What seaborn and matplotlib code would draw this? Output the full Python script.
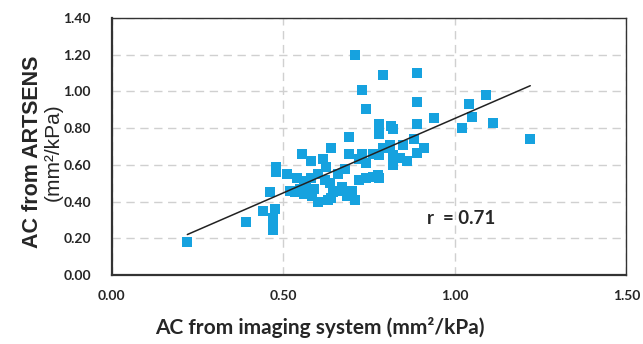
import numpy as np
import pandas as pd
import seaborn as sns
import matplotlib.pyplot as plt

# AC values (mm2/kPa)
ac_imaging = [0.22, 0.39, 0.44, 0.46, 0.475, 0.47, 0.47, 0.47, 0.48, 0.48,
              0.51, 0.555, 0.58, 0.54, 0.56, 0.58, 0.535, 0.56, 0.585, 0.59,
              0.615, 0.625, 0.64, 0.635, 0.645, 0.665, 0.64, 0.685, 0.71, 0.69,
              0.69, 0.73, 0.74, 0.72, 0.74, 0.76, 0.775, 0.71, 0.79, 0.73,
              0.74, 0.78, 0.815, 0.89, 0.89, 1.09, 1.04, 1.05, 1.11, 1.02,
              0.94, 0.89, 0.82, 0.78, 0.88, 0.85, 0.81, 0.91, 0.89, 0.82,
              1.22, 0.86, 0.82, 0.78, 0.78, 0.60, 0.62, 0.66, 0.67, 0.70,
              0.72, 0.52, 0.55, 0.63, 0.60, 0.68, 0.565, 0.79, 0.84, 0.76]
ac_artsens = [0.18, 0.29, 0.35, 0.45, 0.36, 0.31, 0.245, 0.27, 0.59, 0.56,
              0.55, 0.66, 0.62, 0.53, 0.51, 0.53, 0.45, 0.44, 0.43, 0.47,
              0.63, 0.59, 0.69, 0.50, 0.45, 0.46, 0.42, 0.43, 0.41, 0.75,
              0.66, 0.66, 0.61, 0.52, 0.53, 0.535, 0.545, 1.20, 1.09, 1.01,
              0.905, 0.82, 0.81, 1.10, 0.94, 0.98, 0.93, 0.86, 0.83, 0.80,
              0.855, 0.82, 0.795, 0.77, 0.74, 0.71, 0.71, 0.69, 0.665, 0.655,
              0.74, 0.62, 0.60, 0.655, 0.53, 0.55, 0.52, 0.55, 0.48, 0.46,
              0.63, 0.46, 0.47, 0.41, 0.40, 0.58, 0.49, 0.69, 0.64, 0.66]

x_ticks = [0.0, 0.5, 1.0, 1.5]
y_ticks = [0.0, 0.2, 0.4, 0.6, 0.8, 1.0, 1.2, 1.4]

df = pd.DataFrame({'imaging': ac_imaging, 'artsens': ac_artsens})

sns.set_style('white')
plt.rcParams['font.family'] = ['Lato', 'DejaVu Sans']

fig = plt.figure(figsize=(6.43, 3.44), dpi=100)
ax = fig.add_axes([0.174, 0.2, 0.8, 0.748])

sns.regplot(data=df, x='imaging', y='artsens', ax=ax, ci=None, marker='s',
            scatter_kws={'color': '#16A2DF', 's': 55, 'alpha': 1, 'linewidths': 0},
            line_kws={'color': '#222222', 'linewidth': 1.1})

ax.set_xlim(0, 1.5)
ax.set_ylim(0, 1.4)
ax.set_xticks(x_ticks)
ax.set_yticks(y_ticks)
ax.set_xticklabels([f'{v:.2f}' for v in x_ticks], fontweight='bold', fontsize=10)
ax.set_yticklabels([f'{v:.2f}' for v in y_ticks], fontweight='bold', fontsize=10)
ax.grid(True, color='#d0d0d0', linestyle=(0, (6, 4)), linewidth=1)
ax.set_axisbelow(True)
ax.tick_params(direction='out', length=5, width=1.2, color='#333333', pad=6)
ax.tick_params(axis='y', pad=10)

for side in ['top', 'right']:
    ax.spines[side].set_color('#333333')
    ax.spines[side].set_linewidth(1)
for side in ['left', 'bottom']:
    ax.spines[side].set_color('#333333')
    ax.spines[side].set_linewidth(1.6)

ax.set_xlabel('')
ax.set_ylabel('')
fig.text(0.498, 0.049, 'AC from imaging system (mm²/kPa)', fontsize=15,
         fontweight='bold', ha='center', va='center')
fig.text(0.05, 0.558, 'AC from ARTSENS', rotation=90, ha='center', va='center',
         fontsize=15.5, fontweight='bold', family=['Liberation Sans', 'DejaVu Sans'])
fig.text(0.083, 0.558, '(mm²/kPa)', rotation=90, ha='center', va='center',
         fontsize=15, family=['Liberation Sans', 'DejaVu Sans'])

ax.text(0.92, 0.31, 'r  = 0.71', fontsize=13.5, fontweight='bold',
        ha='left', va='center')

fig.savefig('out.png', dpi=100)
